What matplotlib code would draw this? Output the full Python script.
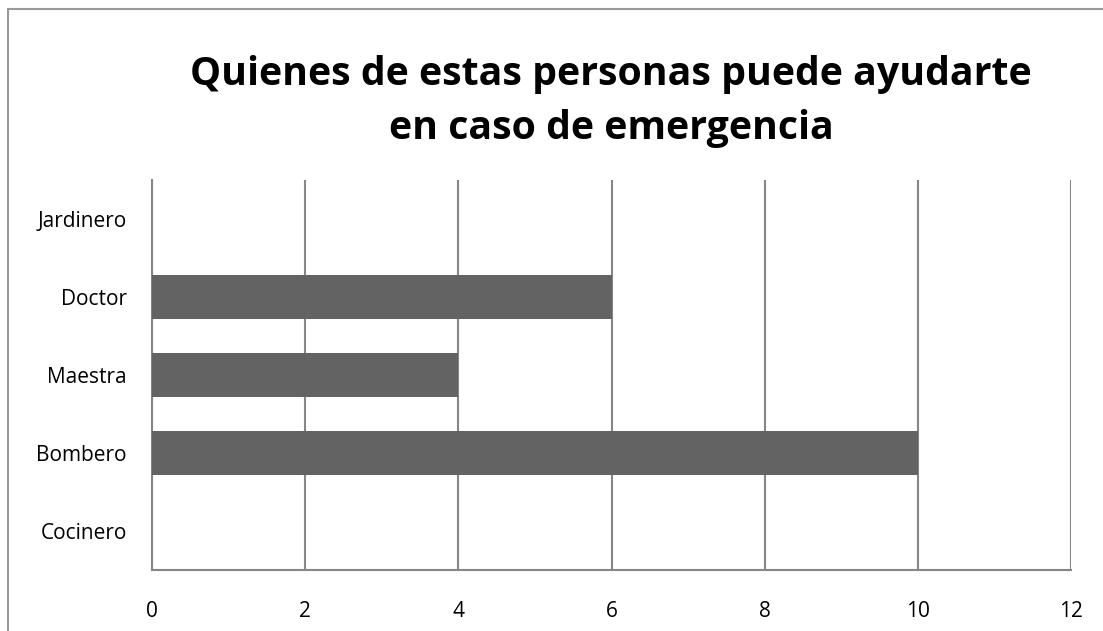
import matplotlib
matplotlib.use('Agg')
import matplotlib.pyplot as plt
from matplotlib.lines import Line2D

# Data
categories = ['Cocinero', 'Bombero', 'Maestra', 'Doctor', 'Jardinero']
values = [0, 10, 4, 6, 0]
x_ticks = [0, 2, 4, 6, 8, 10, 12]
title_lines = ['Quienes de estas personas puede ayudarte', 'en caso de emergencia']

plt.rcParams['font.family'] = ['Open Sans', 'DejaVu Sans']

fig = plt.figure(figsize=(11.03, 6.31), dpi=100)
ax = fig.add_axes([0.1378, 0.0967, 0.971 - 0.1378, 0.7147 - 0.0967])

grid_color = '#868686'
ax.barh(range(len(categories)), values, height=0.57, color='#636363', zorder=3)

ax.set_xlim(0, 12)
ax.set_ylim(-0.5, len(categories) - 0.5)
ax.set_xticks(x_ticks)
ax.set_yticks(range(len(categories)))
ax.set_yticklabels(categories)
ax.tick_params(length=0, labelsize=15)
ax.tick_params(axis='y', pad=18)
ax.tick_params(axis='x', pad=22)

ax.grid(axis='x', color=grid_color, linewidth=1.5, zorder=1)
for side in ['top', 'right']:
    ax.spines[side].set_visible(False)
for side in ['left', 'bottom']:
    ax.spines[side].set_color(grid_color)
    ax.spines[side].set_linewidth(1.5)

# two-line title placed line by line
for line, ypix in zip(title_lines, [75, 128]):
    fig.text(611 / 1103, 1 - ypix / 631, line, ha='center', va='center',
             fontsize=28.3, fontweight='bold')

# outer chart frame (cut by the image edge on right/bottom)
fig.add_artist(Line2D([8 / 1103, 8 / 1103], [0, 1 - 9 / 631], transform=fig.transFigure,
                      color='#9a9a9a', linewidth=1.5))
fig.add_artist(Line2D([8 / 1103, 1], [1 - 9 / 631, 1 - 9 / 631], transform=fig.transFigure,
                      color='#9a9a9a', linewidth=1.5))

fig.savefig('out.png', dpi=100)
